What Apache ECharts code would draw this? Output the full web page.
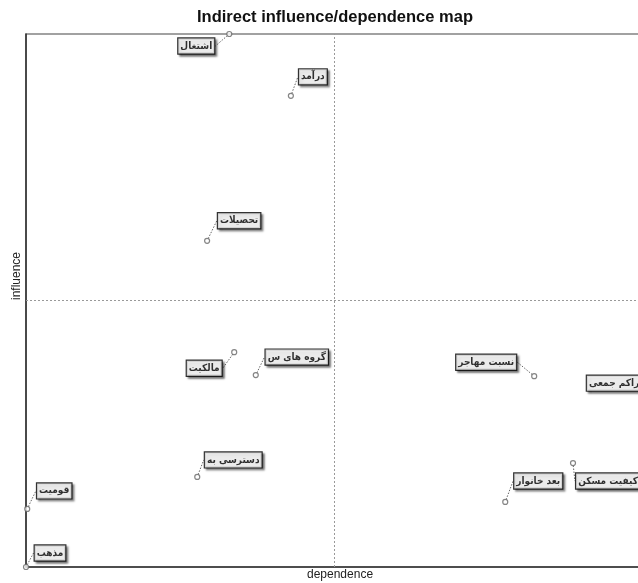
<!DOCTYPE html>
<html>
<head>
<meta charset="utf-8">
<script src="https://cdn.jsdelivr.net/npm/echarts@6/dist/echarts.min.js"></script>
<style>html,body{margin:0;padding:0;background:#fff}#c{width:638px;height:583px}</style>
</head>
<body>
<div id="c"></div>
<script>
const names = ['اشتغال','درآمد','تحصیلات','مالکیت','گروه های س','دسترسی به','قومیت','مذهب','نسبت مهاجر','تراکم جمعی','کیفیت مسکن','بعد خانوار'];
const dependence = [0.330, 0.430, 0.294, 0.338, 0.373, 0.278, 0.002, 0.000, 0.825, 1.000, 0.888, 0.778];
const influence  = [1.000, 0.884, 0.612, 0.403, 0.360, 0.169, 0.109, 0.000, 0.358, 0.375, 0.195, 0.122];
// label offsets (pixels) relative to each point
const labelDx = [-33, 22, 32, -30, 41, 36, 27, 24, -48, -26, 35, 33];
const labelDy = [12, -19, -20, 16, -18, -17, -18, -14, -14, 16, 18, -21];

const chart = echarts.init(document.getElementById('c'));
const pts = names.map((n, i) => ({ name: n, value: [dependence[i], influence[i]] }));
chart.setOption({
  animation: false,
  backgroundColor: '#fff',
  title: {
    text: 'Indirect influence/dependence map',
    left: 192, top: 4,
    textStyle: { fontFamily: 'Liberation Sans', fontWeight: 'bold', fontSize: 16.5, color: '#111' }
  },
  grid: { left: 26, top: 34, width: 616, bottom: 16, outerBoundsMode: 'none', containLabel: false,
          show: true, borderColor: '#444', borderWidth: 1.2 },
  xAxis: {
    type: 'value', min: 0, max: 1,
    axisLine: { show: true, onZero: false, lineStyle: { color: '#333', width: 1.5 } },
    axisTick: { show: false }, axisLabel: { show: false }, splitLine: { show: false }
  },
  yAxis: {
    type: 'value', min: 0, max: 1,
    axisLine: { show: true, onZero: false, lineStyle: { color: '#333', width: 1.5 } },
    axisTick: { show: false }, axisLabel: { show: false }, splitLine: { show: false }
  },
  graphic: [
    { type: 'text', left: 307, top: 569, style: { text: 'dependence', font: '12px "Liberation Sans"', fill: '#222' } },
    { type: 'text', x: 11, y: 300, rotation: Math.PI / 2, style: { text: 'influence', font: '12px "Liberation Sans"', fill: '#222', align: 'left', verticalAlign: 'top' } }
  ],
  series: [{
    type: 'scatter',
    data: pts,
    symbol: 'circle',
    symbolSize: 5,
    clip: false,
    itemStyle: { color: '#fff', borderColor: '#666', borderWidth: 1.2 },
    label: {
      show: true, position: 'inside', formatter: '{b}',
      fontFamily: 'DejaVu Sans Condensed', fontWeight: 'bold', fontSize: 10, color: '#000',
      backgroundColor: '#fff', borderColor: '#000', borderWidth: 1.2,
      padding: [3, 2, 2, 2],
      textShadowColor: 'transparent',
      shadowColor: 'rgba(0,0,0,0.5)', shadowOffsetX: 2, shadowOffsetY: 2, shadowBlur: 2
    },
    labelLine: { show: true, lineStyle: { color: '#666', type: [1.5, 1.5], width: 1 } },
    labelLayout: function (p) { return { dx: labelDx[p.dataIndex], dy: labelDy[p.dataIndex] }; },
    markLine: {
      silent: true, symbol: 'none', label: { show: false },
      lineStyle: { color: '#999', type: [2, 2], width: 1 },
      data: [{ xAxis: 0.5 }, { yAxis: 0.5 }]
    }
  }]
});
</script>
</body>
</html>
